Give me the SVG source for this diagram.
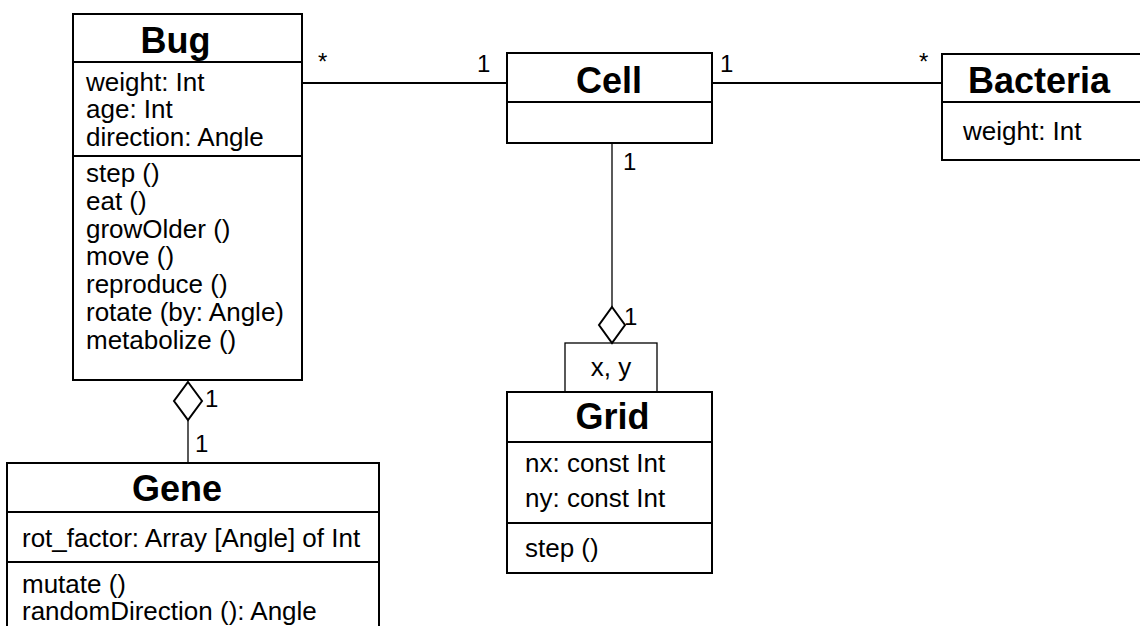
<svg xmlns="http://www.w3.org/2000/svg" width="1140" height="626" viewBox="0 0 1140 626">
<style>
.box{fill:#fff;stroke:#000;stroke-width:2}
.div{stroke:#000;stroke-width:2}
.title{font-family:"Liberation Sans",Arial,sans-serif;font-weight:bold;font-size:36px;fill:#000}
.txt{font-family:"Liberation Sans",Arial,sans-serif;font-size:26px;fill:#000}
.lbl{font-family:"Liberation Sans",Arial,sans-serif;font-size:24px;fill:#000}
.thick{stroke:#000;stroke-width:2;fill:none}
.thin{stroke:#000;stroke-width:1.3;fill:none}
.dia{fill:#fff;stroke:#000;stroke-width:2}
</style>
<rect width="1140" height="626" fill="#fff"/>
<g id="connectors">
<line class="thick" x1="302" y1="83" x2="507" y2="83"/>
<line class="thick" x1="712" y1="83" x2="942" y2="83"/>
<line class="thin" x1="612" y1="143" x2="612" y2="307"/>
<path class="dia" d="M612,307 L625,325 L612,343 L599,325 Z"/>
<line class="thin" x1="188" y1="420" x2="188" y2="463"/>
<path class="dia" d="M188,382 L202,401 L188,420 L174,401 Z"/>
<text class="lbl" x="318" y="70">*</text>
<text class="lbl" x="477" y="72">1</text>
<text class="lbl" x="720" y="72">1</text>
<text class="lbl" x="919" y="70">*</text>
<text class="lbl" x="623" y="170">1</text>
<text class="lbl" x="624" y="325">1</text>
<text class="lbl" x="205" y="407">1</text>
<text class="lbl" x="195" y="452">1</text>
</g>
<g id="bug">
<rect class="box" x="73" y="14" width="229" height="366"/>
<line class="div" x1="73" y1="62" x2="302" y2="62"/>
<line class="div" x1="73" y1="156" x2="302" y2="156"/>
<text class="title" x="175.5" y="53" text-anchor="middle">Bug</text>
<text class="txt" x="86" y="91">weight: Int</text>
<text class="txt" x="86" y="118">age: Int</text>
<text class="txt" x="86" y="146">direction: Angle</text>
<text class="txt" x="86" y="182">step ()</text>
<text class="txt" x="86" y="210">eat ()</text>
<text class="txt" x="86" y="238">growOlder ()</text>
<text class="txt" x="86" y="265">move ()</text>
<text class="txt" x="86" y="293">reproduce ()</text>
<text class="txt" x="86" y="321">rotate (by: Angle)</text>
<text class="txt" x="86" y="349">metabolize ()</text>
</g>
<g id="cell">
<rect class="box" x="507" y="53" width="205" height="90"/>
<line class="div" x1="507" y1="102" x2="712" y2="102"/>
<text class="title" x="609" y="93" text-anchor="middle">Cell</text>
</g>
<g id="bacteria">
<rect class="box" x="942" y="54" width="210" height="106"/>
<line class="div" x1="942" y1="102" x2="1152" y2="102"/>
<text class="title" x="1039" y="93" text-anchor="middle">Bacteria</text>
<text class="txt" x="963" y="140">weight: Int</text>
</g>
<g id="grid">
<rect class="thin" x="565" y="343" width="92" height="49"/>
<text class="txt" x="611" y="376" text-anchor="middle">x, y</text>
<rect class="box" x="507" y="392" width="205" height="181"/>
<line class="div" x1="507" y1="442" x2="712" y2="442"/>
<line class="div" x1="507" y1="523" x2="712" y2="523"/>
<text class="title" x="612.5" y="429" text-anchor="middle">Grid</text>
<text class="txt" x="525" y="472">nx: const Int</text>
<text class="txt" x="525" y="507">ny: const Int</text>
<text class="txt" x="525" y="557">step ()</text>
</g>
<g id="gene">
<rect class="box" x="7" y="463" width="372" height="190"/>
<line class="div" x1="7" y1="512" x2="379" y2="512"/>
<line class="div" x1="7" y1="562" x2="379" y2="562"/>
<text class="title" x="177" y="501" text-anchor="middle">Gene</text>
<text class="txt" x="22" y="547">rot_factor: Array [Angle] of Int</text>
<text class="txt" x="22" y="593">mutate ()</text>
<text class="txt" x="22" y="620">randomDirection (): Angle</text>
</g>
</svg>
